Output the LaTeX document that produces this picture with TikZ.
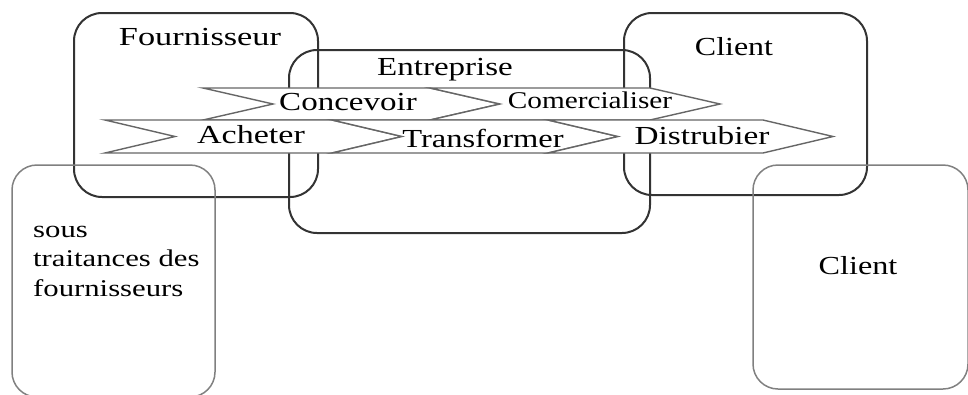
\documentclass[tikz,border=0pt]{standalone}
\usepackage{fontspec}
\setmainfont{Liberation Serif}
\usepackage{graphicx}
% horizontally widened text
\newcommand{\widetext}[2]{\scalebox{#1}[1]{#2}}
% process arrow: left edge, shoulder, top, bottom (tip depth 70)
\newcommand{\procarrow}[4]{%
  \draw[procstyle] (#1,#3) -- (#2,#3) -- ({#2+70},{(#3+#4)/2}) -- (#2,#4)
    -- (#1,#4) -- ({#1+70},{(#3+#4)/2}) -- cycle;}
\begin{document}
\begin{tikzpicture}[x=1pt,y=-1pt,
  mainbox/.style={draw=black!80, line width=2pt, rounded corners=28pt,
    inner sep=0pt, outer sep=0pt},
  subbox/.style={draw=black!50, line width=1.5pt, rounded corners=25pt,
    inner sep=0pt, outer sep=0pt},
  procstyle/.style={draw=black!60, fill=white, line width=1.4pt, line join=miter},
  lbl/.style={font=\fontsize{26}{30}\selectfont, anchor=base, inner sep=0pt},
  smalllbl/.style={font=\fontsize{24}{29.5}\selectfont, anchor=base, inner sep=0pt}]
\useasboundingbox (0,0) rectangle (968,394);

% actors
\node[mainbox, minimum width=361pt, minimum height=183pt] (entreprise) at (469.5,141.5) {};
\node[mainbox, minimum width=244pt, minimum height=184pt] (fournisseur) at (196,105) {};
\node[mainbox, minimum width=243pt, minimum height=182pt] (client) at (745.5,104) {};
\node[subbox, minimum width=203pt, minimum height=232pt] (soustraitance) at (113.5,281) {};
\node[subbox, minimum width=215pt, minimum height=224pt] (clientfinal) at (860.5,277) {};

% value chain, upper row
\procarrow{203}{430}{88}{120}
\procarrow{430}{650}{88}{120}
% value chain, lower row
\procarrow{105}{332}{120}{153}
\procarrow{332}{548}{120}{153}
\procarrow{548}{763}{120}{153}

% labels
\node[lbl] (lfourn) at (200,45) {\widetext{1.32}{Fournisseur}};
\node[lbl] (lentr) at (445,75) {\widetext{1.27}{Entreprise}};
\node[lbl] (lclient) at (734,55) {\widetext{1.23}{Client}};
\node[lbl] (lconc) at (348,110) {\widetext{1.27}{Concevoir}};
\node[smalllbl] (lcomm) at (590,108) {\widetext{1.22}{Comercialiser}};
\node[lbl] (lach) at (251,143) {\widetext{1.31}{Acheter}};
\node[lbl] (ltrans) at (483,147) {\widetext{1.25}{Transformer}};
\node[lbl] (ldist) at (702,144) {\widetext{1.28}{Distrubier}};
\node[lbl] (lclientf) at (858,274) {\widetext{1.24}{Client}};
\node[smalllbl, anchor=base west] (lsous) at (33,237)
  {\widetext{1.28}{\begin{tabular}[t]{@{}l@{}}sous\\traitances des\\fournisseurs\end{tabular}}};
\end{tikzpicture}
\end{document}
